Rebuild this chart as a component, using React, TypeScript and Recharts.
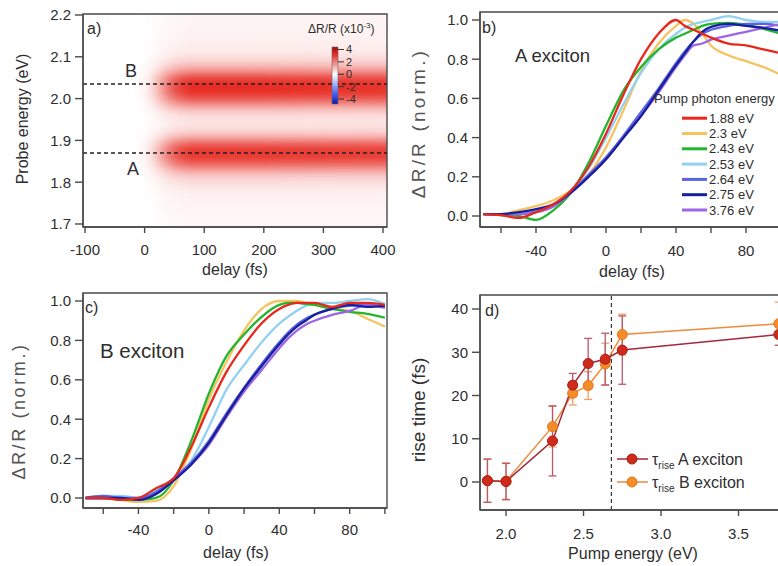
import React from "react";
import {
  ComposedChart,
  LineChart,
  Line,
  XAxis,
  YAxis,
  ReferenceArea,
  ReferenceLine,
  ErrorBar,
} from "recharts";

const FONT = "'Liberation Sans', Arial, Helvetica, sans-serif";
const INK = "#2e2e2e";
const FRAME = "#4a4a4a";
const HEAT = "#e6261d";

// ---------- panel a: probe energy vs delay map ----------
const probeEnergies = [
  1.7, 1.71, 1.72, 1.73, 1.74, 1.75, 1.76, 1.77, 1.78, 1.79, 1.8, 1.81, 1.82, 1.83, 1.84, 1.85, 1.86,
  1.87, 1.88, 1.89, 1.9, 1.91, 1.92, 1.93, 1.94, 1.95, 1.96, 1.97, 1.98, 1.99, 2.0, 2.01, 2.02, 2.03,
  2.04, 2.05, 2.06, 2.07, 2.08, 2.09, 2.1, 2.11, 2.12, 2.13, 2.14, 2.15, 2.16, 2.17, 2.18, 2.19, 2.2,
];
// late-time signal strength along the probe axis (0..1 of the colour scale)
const bandAmplitude = [
  0.04, 0.04, 0.04, 0.05, 0.05, 0.06, 0.06, 0.07, 0.09, 0.12, 0.16, 0.22, 0.32, 0.47, 0.64, 0.79, 0.89,
  0.91, 0.87, 0.74, 0.55, 0.36, 0.23, 0.16, 0.13, 0.14, 0.18, 0.27, 0.41, 0.59, 0.76, 0.89, 0.96, 0.97,
  0.93, 0.82, 0.63, 0.45, 0.31, 0.21, 0.15, 0.11, 0.09, 0.08, 0.07, 0.06, 0.06, 0.05, 0.05, 0.05, 0.05,
];
const riseDelays = [-100, -20, -10, 0, 10, 20, 30, 40, 50, 60, 70, 80, 100, 200, 300, 400];
const riseLevel = [0, 0, 0.02, 0.06, 0.15, 0.3, 0.48, 0.66, 0.8, 0.9, 0.96, 1, 1, 1, 0.98, 0.97];
const mapDelayTicks = [-100, 0, 100, 200, 300, 400];
const mapEnergyTicks = [1.7, 1.8, 1.9, 2.0, 2.1, 2.2];
const excitonLineA = 1.87;
const excitonLineB = 2.035;
const colorbarTicks = [4, 2, 0, -2, -4];

const MAP_X: [number, number] = [-103.4, 406.7];
const MAP_Y: [number, number] = [1.6928, 2.2024];

// ---------- panels b, c: normalised kinetics ----------
const pumpLabels = ["1.88 eV", "2.3 eV", "2.43 eV", "2.53 eV", "2.64 eV", "2.75 eV", "3.76 eV"];
const pumpColors = ["#e8281c", "#f6c35e", "#22b52e", "#92d2f0", "#5b62e4", "#17209c", "#9c66e6"];
const drawOrder = [1, 3, 2, 4, 6, 5, 0];

const delayGrid = [-70, -60, -50, -40, -30, -20, -10, 0, 10, 20, 30, 40, 45, 50, 55, 60, 70, 80, 90, 100];

// A exciton
const a188 = [0.01, 0.005, -0.01, 0.02, 0.06, 0.13, 0.25, 0.42, 0.62, 0.8, 0.93, 1.0, 0.97, 0.95, 0.93, 0.91, 0.88, 0.87, 0.85, 0.83];
const a230 = [0.01, 0.01, 0.03, 0.05, 0.08, 0.13, 0.21, 0.35, 0.54, 0.74, 0.88, 0.97, 1.0, 0.98, 0.93, 0.87, 0.82, 0.79, 0.76, 0.72];
const a243 = [0.01, 0.005, 0.0, -0.02, 0.03, 0.12, 0.27, 0.46, 0.64, 0.76, 0.85, 0.91, 0.93, 0.95, 0.97, 0.98, 0.985, 0.975, 0.955, 0.93];
const a253 = [0.01, 0.01, 0.01, 0.03, 0.06, 0.13, 0.24, 0.4, 0.57, 0.73, 0.85, 0.93, 0.96, 0.98, 0.99, 1.0, 1.02, 1.0, 0.99, 0.99];
const a264 = [0.01, 0.01, 0.01, 0.02, 0.05, 0.12, 0.21, 0.3, 0.41, 0.53, 0.65, 0.78, 0.84, 0.89, 0.93, 0.95, 0.97, 0.98, 0.98, 0.97];
const a275 = [0.01, 0.01, 0.02, 0.035, 0.06, 0.12, 0.2, 0.29, 0.4, 0.51, 0.64, 0.77, 0.83, 0.89, 0.94, 0.965, 0.98, 0.97, 0.96, 0.945];
const a376 = [0.01, 0.01, 0.01, 0.02, 0.05, 0.12, 0.2, 0.29, 0.4, 0.51, 0.63, 0.76, 0.82, 0.87, 0.88, 0.9, 0.92, 0.94, 0.96, 0.98];

// B exciton
const b188 = [0.0, 0.0, -0.01, 0.0, 0.05, 0.1, 0.26, 0.46, 0.64, 0.775, 0.887, 0.96, 0.98, 0.99, 0.99, 0.99, 0.97, 0.99, 0.99, 0.98];
const b230 = [0.0, 0.0, -0.01, -0.02, -0.015, 0.06, 0.25, 0.5, 0.69, 0.85, 0.96, 1.0, 1.0, 1.0, 0.99, 0.98, 0.96, 0.95, 0.91, 0.87];
const b243 = [0.0, 0.0, -0.01, -0.01, 0.0, 0.09, 0.29, 0.53, 0.72, 0.83, 0.92, 0.98, 0.99, 0.99, 0.985, 0.98, 0.96, 0.945, 0.935, 0.915];
const b253 = [0.0, 0.01, 0.01, 0.0, 0.04, 0.1, 0.19, 0.36, 0.55, 0.675, 0.79, 0.885, 0.92, 0.95, 0.975, 0.99, 0.99, 1.0, 1.01, 0.985];
const b264 = [0.0, 0.01, 0.0, 0.0, 0.03, 0.1, 0.18, 0.29, 0.43, 0.56, 0.68, 0.79, 0.84, 0.88, 0.91, 0.93, 0.96, 0.975, 0.98, 0.97];
const b275 = [0.0, 0.0, 0.0, -0.01, 0.02, 0.09, 0.17, 0.28, 0.42, 0.555, 0.67, 0.78, 0.83, 0.87, 0.9, 0.93, 0.96, 0.98, 0.97, 0.975];
const b376 = [0.0, 0.0, 0.0, -0.01, 0.02, 0.09, 0.17, 0.27, 0.41, 0.54, 0.65, 0.76, 0.81, 0.85, 0.88, 0.9, 0.93, 0.95, 0.98, 0.965];

const kineticsDelayTicks = [-60, -40, -20, 0, 20, 40, 60, 80, 100];
const normTicks = [0, 0.2, 0.4, 0.6, 0.8, 1.0];

// ---------- panel d: rise times ----------
const pumpEnergies = [1.88, 2.0, 2.3, 2.43, 2.53, 2.64, 2.75, 3.76];
const riseA = [0.3, 0.1, 9.5, 22.4, 27.4, 28.4, 30.5, 34.1];
const riseAErr = [5, 4.2, 8.1, 2.7, 5.8, 6, 7.9, 2.5];
const riseB = [0.3, 0.2, 12.8, 20.5, 22.3, 27.3, 34.1, 36.6];
const riseBErr = [5, 4.2, 4.7, 2.7, 3.2, 4.8, 4.7, 5];
const thresholdEnergy = 2.68;
const riseTicks = [0, 10, 20, 30, 40];
const pumpTicks = [2.0, 2.5, 3.0, 3.5];

const buildTable = (curves: number[][]) =>
  delayGrid.map((t, i) => {
    const row: Record<string, number> = { t };
    curves.forEach((c, k) => (row["s" + k] = c[i]));
    return row;
  });

const tableA = buildTable([a188, a230, a243, a253, a264, a275, a376]);
const tableB = buildTable([b188, b230, b243, b253, b264, b275, b376]);

const riseTable = pumpEnergies.map((e, i) => ({
  e,
  a: riseA[i],
  aErr: riseAErr[i],
  b: riseB[i],
  bErr: riseBErr[i],
}));

const colorbarTable = colorbarTicks.map((v) => ({ c: 0.5, v }));

const tickStyle = { fontSize: 15, fill: INK, fontFamily: FONT };
const axisCommon = {
  stroke: FRAME,
  strokeWidth: 1.4,
  tick: tickStyle,
};

function MapPanel() {
  const span = MAP_X[1] - MAP_X[0];
  const eSpan = MAP_Y[1] - MAP_Y[0];
  return (
    <ComposedChart width={400} height={290} margin={{ top: 14, right: 13, bottom: 0, left: 0 }}>
      <defs>
        <linearGradient id="bandGrad" x1="0" y1="0" x2="0" y2="1">
          {probeEnergies
            .map((e, i) => ({ e, a: bandAmplitude[i] }))
            .reverse()
            .map((p) => (
              <stop key={p.e} offset={(MAP_Y[1] - p.e) / eSpan} stopColor={HEAT} stopOpacity={p.a} />
            ))}
        </linearGradient>
        <linearGradient id="riseLum" x1="0" y1="0" x2="1" y2="0">
          {riseDelays.map((t, i) => (
            <stop key={t} offset={(t - MAP_X[0]) / span} stopColor="#fff" stopOpacity={riseLevel[i]} />
          ))}
        </linearGradient>
        <mask id="riseMask" maskContentUnits="objectBoundingBox">
          <rect x={0} y={0} width={1} height={1} fill="url(#riseLum)" />
        </mask>
      </defs>
      <XAxis
        type="number"
        dataKey="t"
        domain={MAP_X}
        allowDataOverflow
        ticks={mapDelayTicks}
        height={63}
        tickSize={6}
        tickMargin={11}
        {...axisCommon}
      />
      <YAxis
        type="number"
        domain={MAP_Y}
        allowDataOverflow
        ticks={mapEnergyTicks}
        tickFormatter={(v: number) => v.toFixed(1)}
        width={83}
        tickSize={8}
        tickMargin={4}
        {...axisCommon}
      />
      <ReferenceArea
        x1={MAP_X[0]}
        x2={MAP_X[1]}
        y1={MAP_Y[0]}
        y2={MAP_Y[1]}
        ifOverflow="visible"
        shape={(p: any) => (
          <rect x={p.x} y={p.y} width={p.width} height={p.height} fill="url(#bandGrad)" mask="url(#riseMask)" />
        )}
      />
      <ReferenceLine y={excitonLineB} stroke="#222" strokeWidth={1.6} strokeDasharray="4 3" />
      <ReferenceLine y={excitonLineA} stroke="#222" strokeWidth={1.6} strokeDasharray="4 3" />
      <ReferenceArea
        x1={MAP_X[0]}
        x2={MAP_X[1]}
        y1={MAP_Y[0]}
        y2={MAP_Y[1]}
        fill="none"
        stroke={FRAME}
        strokeWidth={1.4}
        ifOverflow="visible"
      />
    </ComposedChart>
  );
}

function Colorbar() {
  return (
    <ComposedChart width={70} height={70} data={colorbarTable} margin={{ top: 7, right: 0, bottom: 6, left: 12 }}>
      <defs>
        <linearGradient id="cbarGrad" x1="0" y1="0" x2="0" y2="1">
          <stop offset="0" stopColor="#9e0d0d" />
          <stop offset="0.12" stopColor="#e02a22" />
          <stop offset="0.48" stopColor="#ffffff" />
          <stop offset="0.82" stopColor="#4a60f0" />
          <stop offset="1" stopColor="#1016a8" />
        </linearGradient>
      </defs>
      <XAxis type="number" dataKey="c" domain={[0, 1]} tick={false} tickLine={false} axisLine={false} height={0} />
      <YAxis
        type="number"
        dataKey="v"
        orientation="right"
        domain={[-4.8, 4.4]}
        allowDataOverflow
        ticks={colorbarTicks}
        interval={0}
        width={52}
        axisLine={false}
        tickSize={6}
        tickMargin={2}
        stroke="#333"
        tick={{ fontSize: 11, fill: INK, fontFamily: FONT }}
      />
      <ReferenceArea
        x1={0}
        x2={1}
        y1={-4.8}
        y2={4.4}
        fill="url(#cbarGrad)"
        fillOpacity={1}
        stroke="#666"
        strokeWidth={0.6}
        ifOverflow="visible"
      />
    </ComposedChart>
  );
}

function KineticsPanel({ table, xDomain, yDomain, width, height, top, plotTop, xHeight, yWidth, right }: any) {
  return (
    <LineChart
      width={width}
      height={height}
      data={table}
      margin={{ top: plotTop, right, bottom: 0, left: 0 }}
    >
      <XAxis
        type="number"
        dataKey="t"
        domain={xDomain}
        allowDataOverflow
        ticks={kineticsDelayTicks}
        tickFormatter={(v: number) => (v % 40 === 0 ? String(v) : "")}
        height={xHeight}
        tickSize={6}
        tickMargin={top}
        {...axisCommon}
      />
      <YAxis
        type="number"
        domain={yDomain}
        allowDataOverflow
        ticks={normTicks}
        tickFormatter={(v: number) => v.toFixed(1)}
        width={yWidth}
        tickSize={8}
        tickMargin={4}
        {...axisCommon}
      />
      {drawOrder.map((k) => (
        <Line
          key={k}
          type="monotone"
          dataKey={"s" + k}
          stroke={pumpColors[k]}
          strokeWidth={2.3}
          dot={false}
          isAnimationActive={false}
        />
      ))}
      <ReferenceArea
        x1={xDomain[0]}
        x2={xDomain[1]}
        y1={yDomain[0]}
        y2={yDomain[1]}
        fill="none"
        stroke={FRAME}
        strokeWidth={1.4}
        ifOverflow="visible"
      />
    </LineChart>
  );
}

const riseDot = (fill: string, edge: string) => (p: any) =>
  <circle key={p.index} cx={p.cx} cy={p.cy} r={5} fill={fill} stroke={edge} strokeWidth={1} />;

function RisePanel() {
  const xDomain: [number, number] = [1.832, 3.8];
  const yDomain: [number, number] = [-6.47, 43.24];
  return (
    <ComposedChart width={400} height={286} data={riseTable} margin={{ top: 15, right: 15, bottom: 0, left: 0 }}>
      <XAxis
        type="number"
        dataKey="e"
        domain={xDomain}
        allowDataOverflow
        ticks={pumpTicks}
        tickFormatter={(v: number) => v.toFixed(1)}
        height={56}
        tickSize={6}
        tickMargin={12}
        {...axisCommon}
      />
      <YAxis
        type="number"
        domain={yDomain}
        allowDataOverflow
        ticks={riseTicks}
        width={80}
        tickSize={8}
        tickMargin={4}
        {...axisCommon}
      />
      <ReferenceLine x={thresholdEnergy} stroke="#333" strokeWidth={1.2} strokeDasharray="4 3" />
      <Line
        type="linear"
        dataKey="b"
        stroke="#f08a3c"
        strokeWidth={1.5}
        dot={riseDot("#f58c2a", "#e07818")}
        isAnimationActive={false}
      >
        <ErrorBar dataKey="bErr" width={4} stroke="#eba06a" strokeWidth={1.3} direction="y" />
      </Line>
      <Line
        type="linear"
        dataKey="a"
        stroke="#a3283a"
        strokeWidth={1.5}
        dot={riseDot("#d02a1c", "#a41c14")}
        isAnimationActive={false}
      >
        <ErrorBar dataKey="aErr" width={4} stroke="#bb5868" strokeWidth={1.3} direction="y" />
      </Line>
      <ReferenceArea
        x1={xDomain[0]}
        x2={xDomain[1]}
        y1={yDomain[0]}
        y2={yDomain[1]}
        fill="none"
        stroke={FRAME}
        strokeWidth={1.4}
        ifOverflow="visible"
      />
    </ComposedChart>
  );
}

const abs = (left: number, top: number): React.CSSProperties => ({ position: "absolute", left, top });

export default function App() {
  const txt = { fontFamily: FONT, fill: INK };
  return (
    <div
      style={{
        position: "absolute",
        left: 0,
        top: 0,
        width: 778,
        height: 566,
        overflow: "hidden",
        background: "#fff",
      }}
    >
      <div style={abs(0, 0)}>
        <MapPanel />
      </div>
      <div style={abs(320, 40)}>
        <Colorbar />
      </div>
      <div style={abs(400, 0)}>
        <KineticsPanel
          table={tableA}
          xDomain={[-72, 100]}
          yDomain={[-0.0561, 1.0408]}
          width={400}
          height={290}
          plotTop={12}
          xHeight={63}
          yWidth={80}
          right={19}
          top={12}
        />
      </div>
      <div style={abs(0, 280)}>
        <KineticsPanel
          table={tableB}
          xDomain={[-71.5, 101.2]}
          yDomain={[-0.0508, 1.0406]}
          width={400}
          height={286}
          plotTop={13}
          xHeight={58}
          yWidth={83}
          right={13}
          top={10}
        />
      </div>
      <div style={abs(400, 280)}>
        <RisePanel />
      </div>

      <svg width={778} height={566} style={{ ...abs(0, 0), pointerEvents: "none" }}>
        {/* panel a annotations */}
        <text x={87} y={34} fontSize={16} {...txt}>a)</text>
        <text x={125} y={77} fontSize={18} {...txt}>B</text>
        <text x={127} y={175} fontSize={18} {...txt}>A</text>
        <text x={308} y={33} fontSize={12} {...txt}>
          ΔR/R (x10<tspan dy={-5} fontSize={8}>-3</tspan>
          <tspan dy={5}>)</tspan>
        </text>
        <text x={28} y={119} fontSize={16} textAnchor="middle" transform="rotate(-90 28 119)" {...txt}>
          Probe energy (eV)
        </text>
        <text x={235} y={275} fontSize={16} textAnchor="middle" {...txt}>delay (fs)</text>

        {/* panel b annotations */}
        <text x={482} y={33} fontSize={16} {...txt}>b)</text>
        <text x={515} y={62} fontSize={18.5} {...txt}>A exciton</text>
        <text
          x={425}
          y={123}
          fontSize={19}
          letterSpacing={3.2}
          textAnchor="middle"
          transform="rotate(-90 425 123)"
          {...txt}
          fill="#555"
        >
          ΔR/R (norm.)
        </text>
        <text x={632} y={277} fontSize={16} textAnchor="middle" {...txt}>delay (fs)</text>
        <text x={654} y={102.5} fontSize={13} {...txt}>Pump photon energy</text>
        {pumpLabels.map((lab, i) => {
          const y = 122.7 + i * 15.3;
          return (
            <g key={lab}>
              <line x1={682} x2={707} y1={y - 4.5} y2={y - 4.5} stroke={pumpColors[i]} strokeWidth={3} />
              <text x={709} y={y} fontSize={13} {...txt}>{lab}</text>
            </g>
          );
        })}

        {/* panel c annotations */}
        <text x={85} y={313} fontSize={16} {...txt}>c)</text>
        <text x={100} y={358} fontSize={20.5} {...txt}>B exciton</text>
        <text
          x={25}
          y={411}
          fontSize={18}
          letterSpacing={2.6}
          textAnchor="middle"
          transform="rotate(-90 25 411)"
          {...txt}
          fill="#555"
        >
          ΔR/R (norm.)
        </text>
        <text x={236} y={558} fontSize={16} textAnchor="middle" {...txt}>delay (fs)</text>

        {/* panel d annotations */}
        <text x={485} y={316} fontSize={16} {...txt}>d)</text>
        <text x={425} y={410} fontSize={19} textAnchor="middle" transform="rotate(-90 425 410)" {...txt}>
          rise time (fs)
        </text>
        <text x={633} y={559} fontSize={16} textAnchor="middle" {...txt}>Pump energy (eV)</text>
        {[
          { label: "A exciton", line: "#a3283a", fill: "#d02a1c", edge: "#a41c14", y: 459 },
          { label: "B exciton", line: "#f08a3c", fill: "#f58c2a", edge: "#e07818", y: 482 },
        ].map((s) => (
          <g key={s.label}>
            <line x1={617} x2={648} y1={s.y} y2={s.y} stroke={s.line} strokeWidth={1.5} />
            <circle cx={632} cy={s.y} r={5} fill={s.fill} stroke={s.edge} strokeWidth={1} />
            <text x={652} y={s.y + 5.5} fontSize={16} {...txt}>
              τ<tspan fontSize={10} dy={4}>rise</tspan>
              <tspan dy={-4}> {s.label}</tspan>
            </text>
          </g>
        ))}
      </svg>
    </div>
  );
}
